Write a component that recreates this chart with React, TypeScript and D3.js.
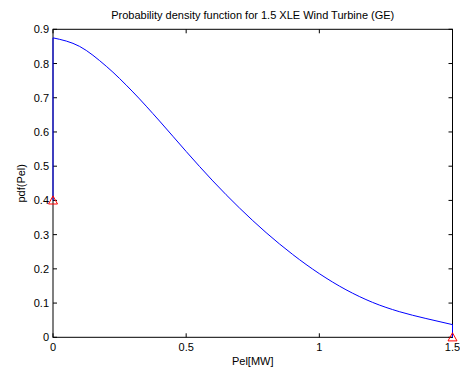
import React from "react";
import * as d3 from "d3";

const pelValues = [0, 0.1, 0.2, 0.3, 0.4, 0.5, 0.6, 0.7, 0.8, 0.9, 1.0, 1.1, 1.2, 1.3, 1.4, 1.5];
const pdfValues = [0.875, 0.85, 0.792, 0.717, 0.632, 0.543, 0.457, 0.378, 0.306, 0.242, 0.186, 0.139, 0.102, 0.075, 0.055, 0.037];
const massX = [0, 1.5];
const massY = [0.4, 0];
const xTicks = [0, 0.5, 1, 1.5];
const xTickLabels = ["0", "0.5", "1", "1.5"];
const yTicks = [0, 0.1, 0.2, 0.3, 0.4, 0.5, 0.6, 0.7, 0.8, 0.9];
const yTickLabels = ["0", "0.1", "0.2", "0.3", "0.4", "0.5", "0.6", "0.7", "0.8", "0.9"];

const W = 460;
const H = 369;
const m = { left: 53, right: 452.5, top: 29.3, bottom: 337.3 };

export default function App() {
  const x = d3.scaleLinear().domain([0, 1.5]).range([m.left, m.right]);
  const y = d3.scaleLinear().domain([0, 0.9]).range([m.bottom, m.top]);
  const pts = pelValues.map((v, i) => [v, pdfValues[i]] as [number, number]);
  const line = d3
    .line<[number, number]>()
    .x((d) => x(d[0]))
    .y((d) => y(d[1]))
    .curve(d3.curveMonotoneX);
  const n = pts.length;
  const font = "'Liberation Sans', Arial, sans-serif";
  const tri = (cx: number, cy: number) => {
    const s = 4.5;
    return `M${cx},${cy - s}L${cx + s},${cy + s * 0.8}L${cx - s},${cy + s * 0.8}Z`;
  };
  return (
    <svg
      width={W}
      height={H}
      style={{ position: "absolute", left: 0, top: 0, background: "#fff" }}
      fontFamily={font}
    >
      <rect x={0} y={0} width={W} height={H} fill="#fff" />
      {xTicks.map((t, i) => (
        <g key={"xt" + i}>
          <line x1={x(t)} x2={x(t)} y1={m.bottom} y2={m.bottom - 4} stroke="#000" />
          <line x1={x(t)} x2={x(t)} y1={m.top} y2={m.top + 4} stroke="#000" />
          <text x={x(t)} y={m.bottom + 14} fontSize={11} textAnchor="middle">
            {xTickLabels[i]}
          </text>
        </g>
      ))}
      {yTicks.map((t, i) => (
        <g key={"yt" + i}>
          <line x1={m.left} x2={m.left + 4} y1={y(t)} y2={y(t)} stroke="#000" />
          <line x1={m.right} x2={m.right - 4} y1={y(t)} y2={y(t)} stroke="#000" />
          <text x={m.left - 4} y={y(t) + 4} fontSize={11} textAnchor="end">
            {yTickLabels[i]}
          </text>
        </g>
      ))}
      <rect
        x={m.left}
        y={m.top}
        width={m.right - m.left}
        height={m.bottom - m.top}
        fill="none"
        stroke="#000"
        strokeWidth={1}
      />
      <line
        x1={x(massX[0])}
        x2={x(pts[0][0])}
        y1={y(massY[0])}
        y2={y(pts[0][1])}
        stroke="#0000ff"
        strokeWidth={1}
      />
      <path d={line(pts) || ""} fill="none" stroke="#0000ff" strokeWidth={1} />
      <line
        x1={x(pts[n - 1][0])}
        x2={x(massX[1])}
        y1={y(pts[n - 1][1])}
        y2={y(massY[1])}
        stroke="#0000ff"
        strokeWidth={1}
      />
      {massX.map((v, i) => (
        <path key={"m" + i} d={tri(x(v), y(massY[i]))} fill="none" stroke="#ff0000" strokeWidth={1} />
      ))}
      <text x={(m.left + m.right) / 2} y={18.5} fontSize={11} textAnchor="middle">
        Probability density function for 1.5 XLE Wind Turbine (GE)
      </text>
      <text x={(m.left + m.right) / 2} y={365} fontSize={11} textAnchor="middle">
        Pel[MW]
      </text>
      <text
        transform={`translate(25,${(m.top + m.bottom) / 2}) rotate(-90)`}
        fontSize={11}
        textAnchor="middle"
      >
        pdf(Pel)
      </text>
    </svg>
  );
}
